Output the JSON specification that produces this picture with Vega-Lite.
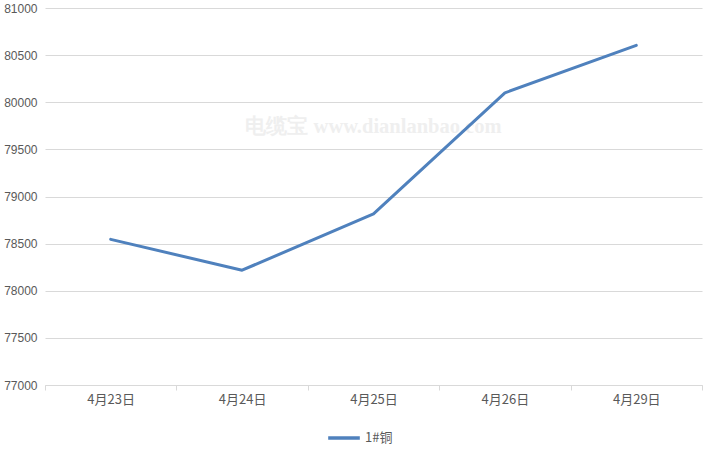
{
  "$schema": "https://vega.github.io/schema/vega-lite/v6.json",
  "width": 657,
  "height": 377,
  "autosize": "none",
  "padding": {"left": 45, "top": 8, "right": 18, "bottom": 70},
  "background": "white",
  "data": {
    "values": [
      {"date": "4月23日", "price": 78545, "series": "1#铜"},
      {"date": "4月24日", "price": 78218, "series": "1#铜"},
      {"date": "4月25日", "price": 78815, "series": "1#铜"},
      {"date": "4月26日", "price": 80100, "series": "1#铜"},
      {"date": "4月29日", "price": 80603, "series": "1#铜"}
    ]
  },
  "layer": [
    {
      "data": {"values": [{"date": "4月25日", "price": 79740, "label": "电缆宝 www.dianlanbao.com"}]},
      "mark": {"type": "text", "font": "Liberation Serif", "fontWeight": "bold", "fontSize": 20.5, "color": "#efefef", "align": "center", "baseline": "middle"},
      "encoding": {
        "x": {"field": "date", "type": "ordinal", "bandPosition": 0.5},
        "y": {"field": "price", "type": "quantitative"},
        "text": {"field": "label"}
      }
    },
    {
      "mark": {"type": "line", "strokeWidth": 3, "strokeCap": "round", "strokeJoin": "round"},
      "encoding": {
        "x": {
          "field": "date", "type": "ordinal", "sort": null, "bandPosition": 0.5,
          "scale": {"type": "band", "paddingInner": 0, "paddingOuter": 0},
          "axis": {"title": null, "labelAngle": 0, "labelAlign": "center", "tickBand": "extent", "domainColor": "#d9d9d9", "tickColor": "#d9d9d9", "tickSize": 5, "labelPadding": 9, "labelColor": "#595959", "labelFontSize": 13, "labelFont": "Noto Sans CJK SC", "grid": false}
        },
        "y": {
          "field": "price", "type": "quantitative",
          "scale": {"domain": [77000, 81000], "zero": false, "nice": false},
          "axis": {"title": null, "values": [77000, 77500, 78000, 78500, 79000, 79500, 80000, 80500, 81000], "domain": false, "ticks": false, "labelPadding": 8, "labelColor": "#595959", "labelFontSize": 12, "labelFont": "Liberation Sans", "gridColor": "#d9d9d9", "format": "d"}
        },
        "color": {
          "field": "series", "type": "nominal",
          "scale": {"range": ["#4F81BD"]},
          "legend": {"title": null, "orient": "none", "legendX": 281, "legendY": 412, "direction": "horizontal", "symbolType": "stroke", "symbolSize": 1000, "symbolStrokeWidth": 3.5, "labelOffset": 3, "labelColor": "#595959", "labelFontSize": 13, "labelFont": "Noto Sans CJK SC"}
        }
      }
    }
  ],
  "config": {"view": {"stroke": null}}
}
